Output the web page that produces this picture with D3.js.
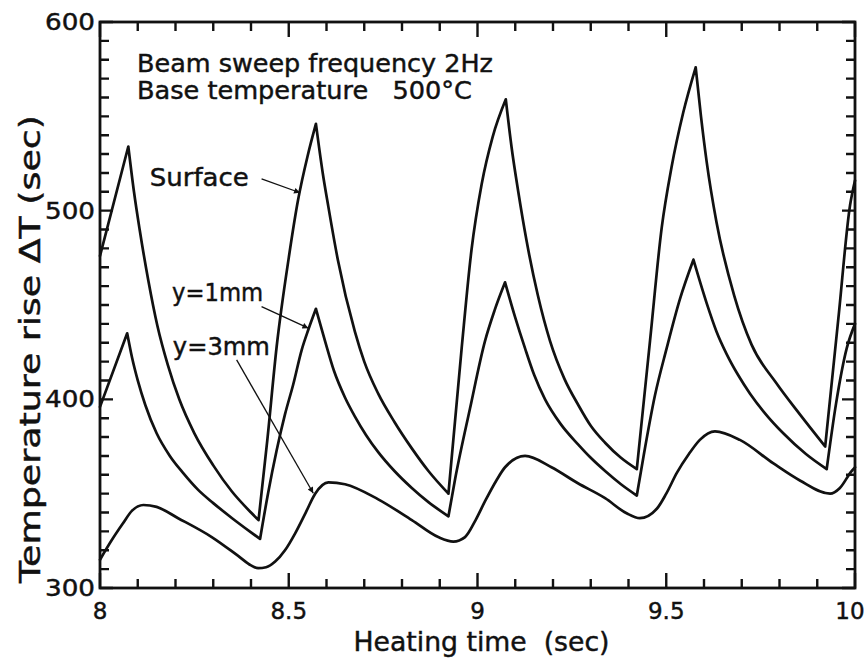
<!DOCTYPE html>
<html>
<head>
<meta charset="utf-8">
<script src="https://cdn.jsdelivr.net/npm/d3@7"></script>
<style>
  body { margin: 0; background: #fff; }
  text { font-family: "DejaVu Sans", sans-serif; fill: #111; stroke: #111; stroke-width: 0.45px; }
</style>
</head>
<body>
<svg id="chart" width="867" height="666"></svg>
<script>
// Axis ranges and tick labels
const timeDomain = [8, 10];
const tempDomain = [300, 600];
const xTickValues = [8, 8.5, 9, 9.5, 10];
const xTickLabels = ["8", "8.5", "9", "9.5", "10"];
const yTickValues = [300, 400, 500, 600];
const yTickLabels = ["300", "400", "500", "600"];

// Temperature rise (°C) against heating time (s)
const surface = [
  [8.000, 476], [8.075, 534],
  [8.090, 510], [8.105, 490], [8.128, 463], [8.152, 439], [8.180, 418], [8.210, 400], [8.250, 382], [8.300, 365], [8.350, 351], [8.400, 340], [8.420, 336],
  [8.443, 378], [8.468, 428], [8.500, 475], [8.525, 506], [8.550, 529], [8.572, 546],
  [8.590, 520], [8.605, 502], [8.630, 474], [8.675, 436], [8.700, 420], [8.737, 403], [8.780, 388], [8.826, 374], [8.870, 362], [8.923, 350],
  [8.958, 427], [8.984, 479], [9.011, 514], [9.040, 539], [9.075, 559],
  [9.090, 534], [9.108, 510], [9.130, 484], [9.160, 455], [9.192, 431], [9.230, 411], [9.267, 397], [9.300, 386], [9.338, 377], [9.380, 369], [9.422, 363],
  [9.457, 431], [9.488, 491], [9.514, 523], [9.545, 552], [9.578, 576],
  [9.592, 550], [9.607, 526], [9.633, 494], [9.680, 455], [9.726, 429], [9.790, 409], [9.854, 392], [9.921, 375],
  [9.956, 443], [9.987, 503], [10.000, 516]
];

const depth1mm = [
  [8.000, 396], [8.072, 435],
  [8.085, 422], [8.100, 410], [8.120, 397], [8.150, 382], [8.185, 370], [8.220, 361], [8.260, 352], [8.300, 345], [8.350, 337], [8.400, 329.5], [8.424, 326],
  [8.445, 350], [8.468, 373], [8.490, 392], [8.512, 408], [8.534, 426], [8.552, 437], [8.572, 448],
  [8.596, 431], [8.620, 415], [8.649, 401], [8.675, 391], [8.705, 381], [8.737, 372], [8.780, 362], [8.826, 353], [8.870, 345.5], [8.923, 338],
  [8.940, 357], [8.980, 395], [9.020, 431], [9.045, 447], [9.073, 462],
  [9.099, 444], [9.126, 427], [9.150, 413], [9.179, 400], [9.220, 387], [9.267, 376], [9.300, 369], [9.338, 362], [9.380, 355], [9.422, 349],
  [9.440, 370], [9.470, 402], [9.501, 427], [9.536, 453], [9.572, 474],
  [9.607, 451], [9.633, 436], [9.660, 424], [9.690, 413], [9.722, 403], [9.760, 393], [9.810, 382], [9.870, 371], [9.925, 363],
  [9.950, 398], [9.978, 427], [10.000, 440]
];

const depth3mm = [
  [8.000, 315], [8.030, 325], [8.060, 334], [8.085, 341], [8.115, 344], [8.150, 343], [8.207, 337], [8.296, 327], [8.366, 317], [8.400, 312], [8.419, 310.5],
  [8.440, 311], [8.464, 314], [8.490, 320], [8.517, 329], [8.545, 340], [8.570, 350], [8.605, 356], [8.649, 355], [8.737, 347], [8.826, 336], [8.896, 327], [8.936, 324.6],
  [8.967, 327], [8.995, 336], [9.020, 346], [9.050, 357], [9.073, 364], [9.126, 370], [9.196, 364], [9.266, 355.5], [9.338, 347.6], [9.395, 339.6], [9.430, 337],
  [9.475, 342], [9.500, 350], [9.528, 361], [9.560, 371], [9.589, 378.5], [9.629, 383], [9.695, 378.5], [9.784, 366], [9.854, 357], [9.934, 350],
  [9.960, 353], [9.991, 362], [10.000, 364]
];

// Text notes, anchored in data coordinates (time, temperature)
const notes = [
  { text: "Beam sweep frequency 2Hz", t: 8.098, v: 573.5, len: 356 },
  { text: "Base temperature   500°C", t: 8.098, v: 559.2, len: 335 },
  { text: "Surface", t: 8.132, v: 513.1, len: 99 },
  { text: "y=1mm", t: 8.191, v: 452.1, len: 91 },
  { text: "y=3mm", t: 8.193, v: 423.5, len: 97 }
];

// Leader arrows from labels to curves: [from time, from temp, to time, to temp]
const leaders = [
  [8.428, 516.8, 8.530, 509.5],
  [8.428, 449.1, 8.552, 437.7],
  [8.362, 420.9, 8.565, 350.2]
];

const svg = d3.select("#chart");
const margin = { left: 100, right: 12, top: 22, bottom: 78 };
const W = 867, H = 666;

const x = d3.scaleLinear().domain(timeDomain).range([margin.left, W - margin.right]);
const y = d3.scaleLinear().domain(tempDomain).range([H - margin.bottom, margin.top]);

const xMinor = d3.range(80, 101).map(d => d / 10).filter(d => !xTickValues.includes(d));
const yMinor = d3.range(300, 601, 10).filter(d => !yTickValues.includes(d));

const plotLeft = x(timeDomain[0]), plotRight = x(timeDomain[1]);
const plotBottom = y(tempDomain[0]), plotTop = y(tempDomain[1]);

// Plot frame
svg.append("rect")
  .attr("x", plotLeft).attr("y", plotTop)
  .attr("width", plotRight - plotLeft).attr("height", plotBottom - plotTop)
  .attr("fill", "none").attr("stroke", "#111").attr("stroke-width", 2.8);

// Inward ticks on all four sides, built as one path from the scales
const xTicks = xTickValues.map(v => [v, 15]).concat(xMinor.map(v => [v, 9]));
const yTicks = yTickValues.map(v => [v, 13]).concat(yMinor.map(v => [v, 9]));
const tickPath = d3.path();
xTicks.forEach(([v, len]) => {
  tickPath.moveTo(x(v), plotBottom); tickPath.lineTo(x(v), plotBottom - len);
  tickPath.moveTo(x(v), plotTop); tickPath.lineTo(x(v), plotTop + len);
});
yTicks.forEach(([v, len]) => {
  tickPath.moveTo(plotLeft, y(v)); tickPath.lineTo(plotLeft + len, y(v));
  tickPath.moveTo(plotRight, y(v)); tickPath.lineTo(plotRight - len, y(v));
});
svg.append("path")
  .attr("d", tickPath.toString())
  .attr("fill", "none").attr("stroke", "#111").attr("stroke-width", 2.4);

// Tick labels
svg.append("g").selectAll("text").data(xTickValues).join("text")
  .attr("x", (d, i) => x(d) - (i === xTickValues.length - 1 ? 5 : 0))
  .attr("y", plotBottom + 31)
  .attr("text-anchor", "middle").attr("font-size", 23)
  .text((d, i) => xTickLabels[i]);

svg.append("g").selectAll("text").data(yTickValues).join("text")
  .attr("x", plotLeft - 5).attr("y", d => y(d) + 8)
  .attr("text-anchor", "end").attr("font-size", 23)
  .attr("textLength", 50).attr("lengthAdjust", "spacingAndGlyphs")
  .text((d, i) => yTickLabels[i]);

// Axis titles
svg.append("text")
  .attr("x", (plotLeft + plotRight) / 2 + 4).attr("y", 651)
  .attr("text-anchor", "middle").attr("font-size", 27)
  .attr("textLength", 256).attr("lengthAdjust", "spacingAndGlyphs")
  .attr("xml:space", "preserve")
  .text("Heating time  (sec)");

svg.append("text")
  .attr("transform", `translate(40,${(115 + 583) / 2}) rotate(-90)`)
  .attr("text-anchor", "middle").attr("font-size", 28)
  .attr("textLength", 468).attr("lengthAdjust", "spacingAndGlyphs")
  .text("Temperature rise ΔT (sec)");

// Curves: sharp cusps at the extremes of the surface and 1 mm series,
// smooth turning points for the 3 mm series
const line = d3.line().x(d => x(d[0])).y(d => y(d[1])).curve(d3.curveMonotoneX);

function splitAtTurns(pts) {
  const segs = [];
  let start = 0;
  for (let i = 1; i < pts.length - 1; i++) {
    const a = pts[i][1] - pts[i - 1][1], b = pts[i + 1][1] - pts[i][1];
    if (a * b < 0) { segs.push(pts.slice(start, i + 1)); start = i; }
  }
  segs.push(pts.slice(start));
  return segs;
}

const curves = svg.append("g")
  .attr("fill", "none").attr("stroke", "#111").attr("stroke-width", 2.7)
  .attr("stroke-linejoin", "round").attr("stroke-linecap", "round");

[surface, depth1mm].forEach(series => {
  curves.append("path").attr("d", splitAtTurns(series).map(s => line(s)).join(""));
});
curves.append("path").attr("d", line(depth3mm));

// Arrowhead marker
svg.append("defs").append("marker")
  .attr("id", "head").attr("viewBox", "0 0 10 10")
  .attr("refX", 10).attr("refY", 5)
  .attr("markerWidth", 11).attr("markerHeight", 6)
  .attr("markerUnits", "userSpaceOnUse")
  .attr("orient", "auto")
  .append("path").attr("d", "M0,0 L10,5 L0,10 Z").attr("fill", "#111");

svg.append("g").selectAll("line").data(leaders).join("line")
  .attr("x1", d => x(d[0])).attr("y1", d => y(d[1]))
  .attr("x2", d => x(d[2])).attr("y2", d => y(d[3]))
  .attr("stroke", "#111").attr("stroke-width", 1.3)
  .attr("marker-end", "url(#head)");

// Labels
svg.append("g").selectAll("text").data(notes).join("text")
  .attr("x", d => x(d.t)).attr("y", d => y(d.v))
  .attr("font-size", 25)
  .attr("textLength", d => d.len).attr("lengthAdjust", "spacingAndGlyphs")
  .attr("xml:space", "preserve")
  .text(d => d.text);
</script>
</body>
</html>
